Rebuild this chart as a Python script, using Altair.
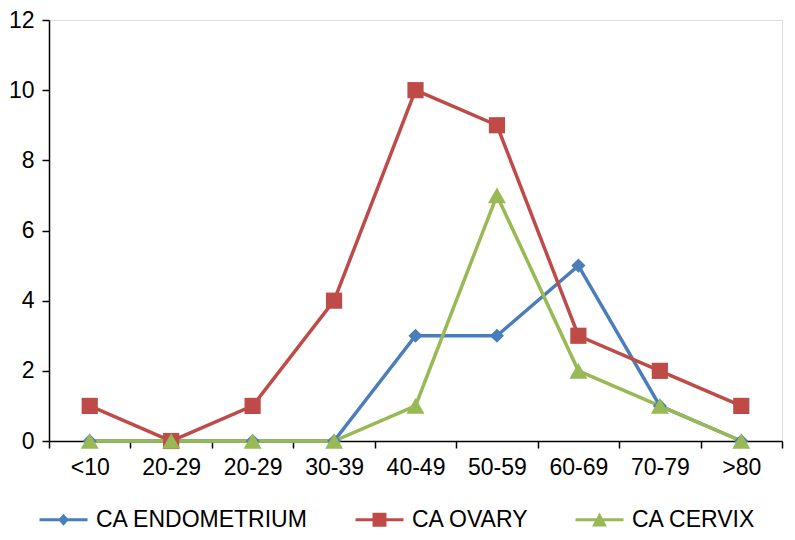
import json
import altair as alt
import pandas as pd

categories = ["<10", "20-29", "20-29", "30-39", "40-49", "50-59", "60-69", "70-79", ">80"]
series_names = ["CA ENDOMETRIUM", "CA OVARY", "CA CERVIX"]
endometrium = [0, 0, 0, 0, 3, 3, 5, 1, 0]
ovary = [1, 0, 1, 4, 10, 9, 3, 2, 1]
cervix = [0, 0, 0, 0, 1, 7, 2, 1, 0]
y_ticks = [0, 2, 4, 6, 8, 10, 12]
colors = ["#4A7EBB", "#BE4B48", "#98B954"]

rows = []
for k, (name, vals) in enumerate(zip(series_names, [endometrium, ovary, cervix])):
    for i, v in enumerate(vals):
        rows.append({"idx": i, "series": name, "value": v, "order": k})
df = pd.DataFrame(rows)

label_expr = json.dumps(categories) + "[datum.value]"

x_enc = alt.X("idx:O", bandPosition=0.5,
              scale=alt.Scale(type="band", paddingInner=0, paddingOuter=0),
              axis=alt.Axis(title=None, labelExpr=label_expr, labelAngle=0,
                            tickBand="extent", tickSize=7, labelPadding=8,
                            labelFontSize=23, labelColor="#000000",
                            domainColor="#000000", tickColor="#000000",
                            domainWidth=1.5, tickWidth=1.5))
y_enc = alt.Y("value:Q", scale=alt.Scale(domain=[0, 12]),
              axis=alt.Axis(title=None, values=y_ticks, grid=False, tickSize=7,
                            labelPadding=8, labelFontSize=23, labelColor="#000000",
                            domainColor="#000000", tickColor="#000000",
                            domainWidth=1.5, tickWidth=1.5))
color_scale = alt.Scale(domain=series_names, range=colors)

lines = alt.Chart(df).mark_line(strokeWidth=3.5).encode(
    x=x_enc, y=y_enc,
    color=alt.Color("series:N", scale=color_scale, legend=None),
    detail="series:N",
)

points = alt.Chart(df).mark_point(filled=True, opacity=1).encode(
    x=x_enc, y=y_enc,
    color=alt.Color("series:N", scale=color_scale, legend=None),
    shape=alt.Shape("series:N",
                    scale=alt.Scale(domain=series_names,
                                    range=["diamond", "square", "triangle-up"]),
                    legend=None),
    size=alt.Size("series:N", scale=alt.Scale(domain=series_names, range=[200, 324, 260]),
                  legend=None),
    order="order:Q",
)

# legend symbols: a line with the marker in the middle (unit = 8px, size 256)
leg_paths = [
    "M-3,-0.19 L-0.5,-0.19 L0,-0.75 L0.5,-0.19 L3,-0.19 L3,0.19 L0.5,0.19 L0,0.75 L-0.5,0.19 L-3,0.19 Z",
    "M-3,-0.19 L-0.87,-0.19 L-0.87,-0.87 L0.87,-0.87 L0.87,-0.19 L3,-0.19 L3,0.19 L0.87,0.19 L0.87,0.87 L-0.87,0.87 L-0.87,0.19 L-3,0.19 Z",
    "M-3,-0.19 L-0.38,-0.19 L0,-0.9 L0.38,-0.19 L3,-0.19 L3,0.19 L0.58,0.19 L0.93,0.84 L-0.93,0.84 L-0.58,0.19 L-3,0.19 Z",
]

legend_layer = alt.Chart(df).transform_filter("false").mark_point(filled=True, opacity=1).encode(
    x=x_enc, y=y_enc,
    color=alt.Color("series:N", scale=color_scale,
                    legend=alt.Legend(title=None, orient="none", direction="horizontal",
                                      legendX=3, legendY=488, padding=0,
                                      symbolSize=256, labelOffset=21,
                                      columnPadding=46, labelFontSize=23,
                                      labelColor="#000000", labelLimit=400,
                                      symbolStrokeWidth=0, symbolOpacity=1)),
    shape=alt.Shape("series:N", scale=alt.Scale(domain=series_names, range=leg_paths)),
)

chart = alt.layer(lines, points, legend_layer).resolve_scale(
    shape="independent", size="independent", color="independent"
).properties(
    width=733, height=421,
    autosize=alt.AutoSizeParams(type="none"),
    padding={"left": 41, "top": 12, "right": 5, "bottom": 91},
).configure_view(stroke=None).configure(
    font="Liberation Sans"
).configure_axis(labelFont="Liberation Sans").configure_legend(labelFont="Liberation Sans")

chart.save("out.html", embed_options={"renderer": "svg", "actions": False})
